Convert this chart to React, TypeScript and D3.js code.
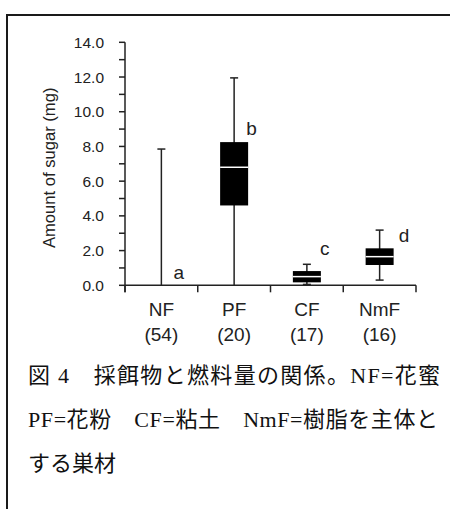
import React from "react";
import * as d3 from "d3";

const categories = ["NF", "PF", "CF", "NmF"];
const counts = ["(54)", "(20)", "(17)", "(16)"];
const whiskerLow = [0, 0, 0.05, 0.3];
const q1 = [0, 4.6, 0.17, 1.17];
const median = [0, 6.8, 0.5, 1.65];
const q3 = [0, 8.25, 0.82, 2.13];
const whiskerHigh = [7.85, 11.95, 1.21, 3.18];
const letters = ["a", "b", "c", "d"];
const letterY = [0.36, 8.65, 1.74, 2.5];
const yTicks = [0, 2, 4, 6, 8, 10, 12, 14];
const yMinorTicks = d3.range(0, 15, 1);
const captionLines = [
  "図 4\u3000採餌物と燃料量の関係。NF=花蜜",
  "PF=花粉\u3000CF=粘土\u3000NmF=樹脂を主体と",
  "する巣材",
];

export default function App() {
  const W = 450;
  const H = 509;
  const x0 = 125;
  const x1 = 416;
  const yTop = 42.3;
  const yBot = 285.3;
  const x = d3.scaleBand<string>().domain(categories).range([x0, x1]).padding(0);
  const y = d3.scaleLinear().domain([0, 14]).range([yBot, yTop]);
  const bw = 28;
  const capW = 8;
  const sans = "Arial, 'Liberation Sans', sans-serif";
  const axisColor = "#222";
  const letterDx = [12, 12, 13, 19];
  const captionJustify = [412, 410, 0];

  return (
    <svg
      width={W}
      height={H}
      style={{ position: "absolute", left: 0, top: 0, background: "#fff" }}
    >
      <rect x={0} y={0} width={W} height={H} fill="#fff" />
      {/* frame */}
      <line x1={7} y1={15} x2={W} y2={15} stroke="#1a1a1a" strokeWidth={2} />
      <line x1={7} y1={14} x2={7} y2={H} stroke="#1a1a1a" strokeWidth={2} />

      {/* y axis */}
      <line x1={x0} y1={y(14)} x2={x0} y2={yBot + 7} stroke={axisColor} strokeWidth={1.5} />
      {yMinorTicks.map((t) => (
        <line key={"m" + t} x1={x0 - 6} x2={x0} y1={y(t)} y2={y(t)} stroke={axisColor} strokeWidth={1.5} />
      ))}
      {yTicks.map((t) => (
        <text
          key={"t" + t}
          x={104}
          y={y(t)}
          dy="0.36em"
          textAnchor="end"
          fontFamily={sans}
          fontSize={15.5}
          fill="#222"
        >
          {t.toFixed(1)}
        </text>
      ))}
      <text
        transform={`translate(55,${(yTop + yBot) / 2 + 4}) rotate(-90)`}
        textAnchor="middle"
        fontFamily={sans}
        fontSize={16.6}
        fill="#222"
      >
        Amount of sugar (mg)
      </text>

      {/* x axis */}
      <line x1={x0} y1={yBot} x2={x1} y2={yBot} stroke={axisColor} strokeWidth={1.5} />
      {[...categories.map((c) => x(c) as number), x1].map((v, i) => (
        <line key={"xt" + i} x1={v} x2={v} y1={yBot} y2={yBot + 7} stroke={axisColor} strokeWidth={1.5} />
      ))}
      {categories.map((c, i) => {
        const cx = (x(c) as number) + x.bandwidth() / 2;
        return (
          <g key={"lab" + c} fontFamily={sans} fontSize={19} fill="#222" textAnchor="middle">
            <text x={cx} y={316}>{c}</text>
            <text x={cx} y={341}>{counts[i]}</text>
          </g>
        );
      })}

      {/* boxes */}
      {categories.map((c, i) => {
        const cx = (x(c) as number) + x.bandwidth() / 2;
        const hasBox = q3[i] > q1[i];
        return (
          <g key={"box" + c}>
            <line x1={cx} x2={cx} y1={y(whiskerLow[i])} y2={y(whiskerHigh[i])} stroke="#222" strokeWidth={1.5} />
            <line x1={cx - capW / 2} x2={cx + capW / 2} y1={y(whiskerHigh[i])} y2={y(whiskerHigh[i])} stroke="#222" strokeWidth={1.5} />
            {whiskerLow[i] > 0 && (
              <line x1={cx - capW / 2} x2={cx + capW / 2} y1={y(whiskerLow[i])} y2={y(whiskerLow[i])} stroke="#222" strokeWidth={1.5} />
            )}
            {hasBox && (
              <>
                <rect x={cx - bw / 2} y={y(q3[i])} width={bw} height={y(q1[i]) - y(q3[i])} fill="#000" />
                <line x1={cx - bw / 2} x2={cx + bw / 2} y1={y(median[i])} y2={y(median[i])} stroke="#fff" strokeWidth={1.5} />
              </>
            )}
            <text
              x={cx + letterDx[i]}
              y={y(letterY[i])}
              fontFamily={sans}
              fontSize={19}
              fill="#222"
            >
              {letters[i]}
            </text>
          </g>
        );
      })}

      {/* caption */}
      {captionLines.map((l, i) => (
        <text
          key={"cap" + i}
          x={28}
          y={383 + i * 44}
          fontFamily="'Liberation Serif', 'Noto Sans CJK JP', serif"
          fontSize={22}
          fill="#111"
          {...(captionJustify[i] > 0
            ? { textLength: captionJustify[i], lengthAdjust: "spacing" }
            : {})}
        >
          {l}
        </text>
      ))}
    </svg>
  );
}
